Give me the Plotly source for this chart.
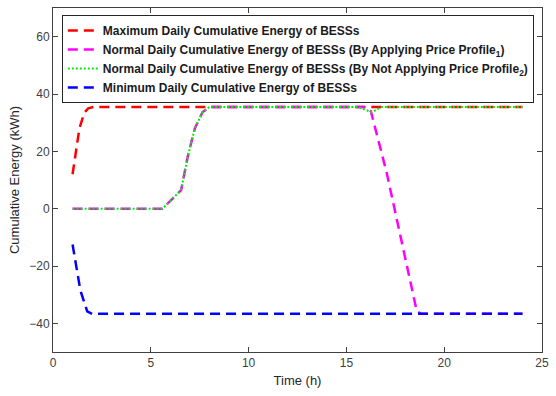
import plotly.graph_objects as go

# Time (h) and cumulative energy (kWh)
t_max = [1, 1.15, 1.35, 1.6, 1.8, 2.1, 24]
e_max = [12, 19, 28, 33.5, 35, 35.5, 35.5]

t_norm1 = [1, 5.6, 6.55, 6.9, 7.25, 7.65, 8.0, 16.0, 16.25, 17.05, 18.6, 18.85, 24]
e_norm1 = [0, 0, 6.5, 18.5, 28, 33.7, 35.5, 35.5, 34.0, 12.8, -35.8, -36.7, -36.7]

t_norm2 = [1, 5.6, 6.55, 6.9, 7.25, 7.65, 8.0, 15.6, 16.3, 16.8, 24]
e_norm2 = [0, 0, 6.5, 18.5, 28, 33.7, 35.5, 35.5, 33.6, 35.5, 35.5]

t_min = [1, 1.15, 1.4, 1.75, 2.0, 24]
e_min = [-12.5, -19, -28.5, -35.8, -36.7, -36.7]

names = [
    "Maximum Daily Cumulative Energy of BESSs",
    "Normal Daily Cumulative Energy of BESSs (By Applying Price Profile<sub>1</sub>)",
    "Normal Daily Cumulative Energy of BESSs (By Not Applying Price Profile<sub>2</sub>)",
    "Minimum Daily Cumulative Energy of BESSs",
]

fig = go.Figure()
fig.add_trace(go.Scatter(x=t_max, y=e_max, mode="lines", name=names[0],
                         line=dict(color="#ff0000", width=2.5, dash="10px,6px")))
fig.add_trace(go.Scatter(x=t_norm1, y=e_norm1, mode="lines", name=names[1],
                         line=dict(color="#ff00ff", width=2.5, dash="10px,6px")))
fig.add_trace(go.Scatter(x=t_norm2, y=e_norm2, mode="lines", name=names[2],
                         line=dict(color="#00ee00", width=2, dash="2px,2px")))
fig.add_trace(go.Scatter(x=t_min, y=e_min, mode="lines", name=names[3],
                         line=dict(color="#0000ff", width=2.5, dash="10px,6px")))

axis_common = dict(
    showgrid=False, zeroline=False, showline=True, linecolor="#404040", linewidth=1,
    mirror="ticks", ticks="inside", ticklen=5, tickcolor="#404040",
    tickfont=dict(family="Liberation Sans, Arial", size=12, color="#404040"),
)

fig.update_layout(
    width=556, height=396,
    margin=dict(l=53, r=7, t=8, b=44),
    paper_bgcolor="white", plot_bgcolor="white",
    font=dict(family="Liberation Sans, Arial", color="#262626"),
    xaxis=dict(range=[0, 25], tickvals=[0, 5, 10, 15, 20, 25],
               title=dict(text="Time (h)", font=dict(size=13, color="#262626"), standoff=6),
               **axis_common),
    yaxis=dict(range=[-50, 70], tickvals=[-40, -20, 0, 20, 40, 60],
               title=dict(text="Cumulative Energy (kWh)", font=dict(size=13, color="#262626"), standoff=6),
               **axis_common),
    legend=dict(x=0.018, y=0.98, xanchor="left", yanchor="top",
                bgcolor="white", bordercolor="#262626", borderwidth=1,
                font=dict(family="Liberation Sans, Arial", size=12, color="#1a1a1a", weight="bold"),
                tracegroupgap=0, itemwidth=30),
    showlegend=True,
)

fig.write_html("out.html")
